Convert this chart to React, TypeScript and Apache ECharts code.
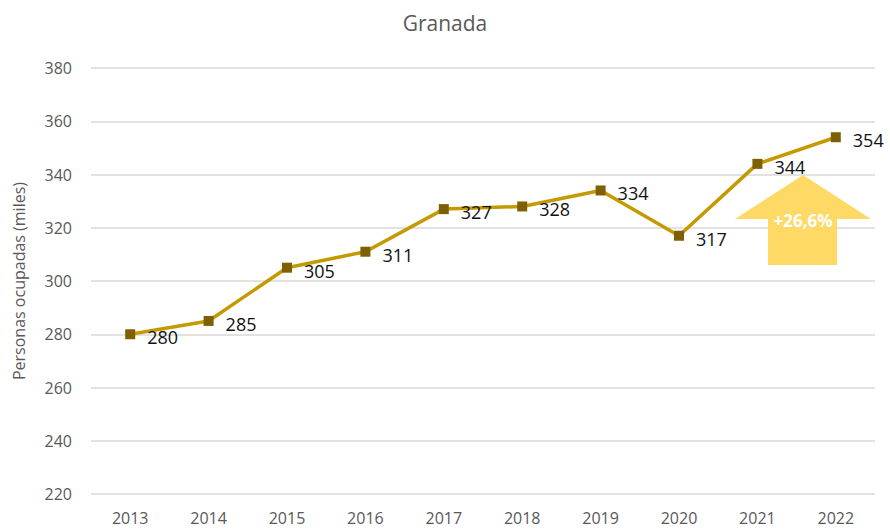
import React, { useEffect, useRef } from "react";
import * as echarts from "echarts";

const years = ["2013", "2014", "2015", "2016", "2017", "2018", "2019", "2020", "2021", "2022"];
const ocupados = [280, 285, 305, 311, 327, 328, 334, 317, 344, 354];
const chartTitle = "Granada";
const yAxisName = "Personas ocupadas (miles)";
const arrowLabel = "+26,6%";

export default function App() {
  const ref = useRef<HTMLDivElement>(null);
  useEffect(() => {
    if (!ref.current) return;
    const chart = echarts.init(ref.current, null, { renderer: "svg" });
    const font = "'Open Sans', 'Noto Sans', sans-serif";
    chart.setOption({
      animation: false,
      backgroundColor: "#ffffff",
      textStyle: { fontFamily: font },
      title: {
        text: chartTitle,
        left: "center",
        top: 7,
        textStyle: { fontFamily: font, fontSize: 21, fontWeight: "normal", color: "#595959" },
      },
      grid: { left: 91, right: 15, top: 68, bottom: 36, containLabel: false },
      xAxis: {
        type: "category",
        data: years,
        boundaryGap: true,
        axisLine: { show: false },
        axisTick: { show: false },
        axisLabel: { color: "#595959", fontSize: 16, fontFamily: font, margin: 16 },
      },
      yAxis: {
        type: "value",
        min: 220,
        max: 380,
        interval: 20,
        name: yAxisName,
        nameLocation: "middle",
        nameGap: 64,
        nameTextStyle: { color: "#595959", fontSize: 16, fontFamily: font },
        axisLine: { show: false },
        axisTick: { show: false },
        axisLabel: { color: "#595959", fontSize: 16, fontFamily: font, margin: 19 },
        splitLine: { lineStyle: { color: "#D9D9D9", width: 1.5 } },
      },
      series: [
        {
          type: "line",
          data: ocupados,
          lineStyle: { color: "#C49A00", width: 3.5 },
          itemStyle: { color: "#7F6000" },
          symbol: "rect",
          symbolSize: 10,
          label: {
            show: true,
            position: "right",
            distance: 12,
            offset: [0, 3],
            color: "#111111",
            fontSize: 18,
            fontFamily: font,
          },
        },
      ],
      graphic: [
        {
          type: "polygon",
          shape: {
            points: [
              [735, 219],
              [803, 175],
              [871, 219],
              [837, 219],
              [837, 265],
              [768, 265],
              [768, 219],
            ],
          },
          style: { fill: "#FFD966" },
          z: 10,
        },
        {
          type: "text",
          x: 803,
          y: 220,
          style: {
            text: arrowLabel,
            fill: "#ffffff",
            font: `bold 17px ${font}`,
            textAlign: "center",
            textVerticalAlign: "middle",
          },
          z: 11,
        },
      ],
    });
    return () => chart.dispose();
  }, []);
  return (
    <div
      ref={ref}
      style={{ position: "fixed", left: 0, top: 0, width: 890, height: 530 }}
    />
  );
}
